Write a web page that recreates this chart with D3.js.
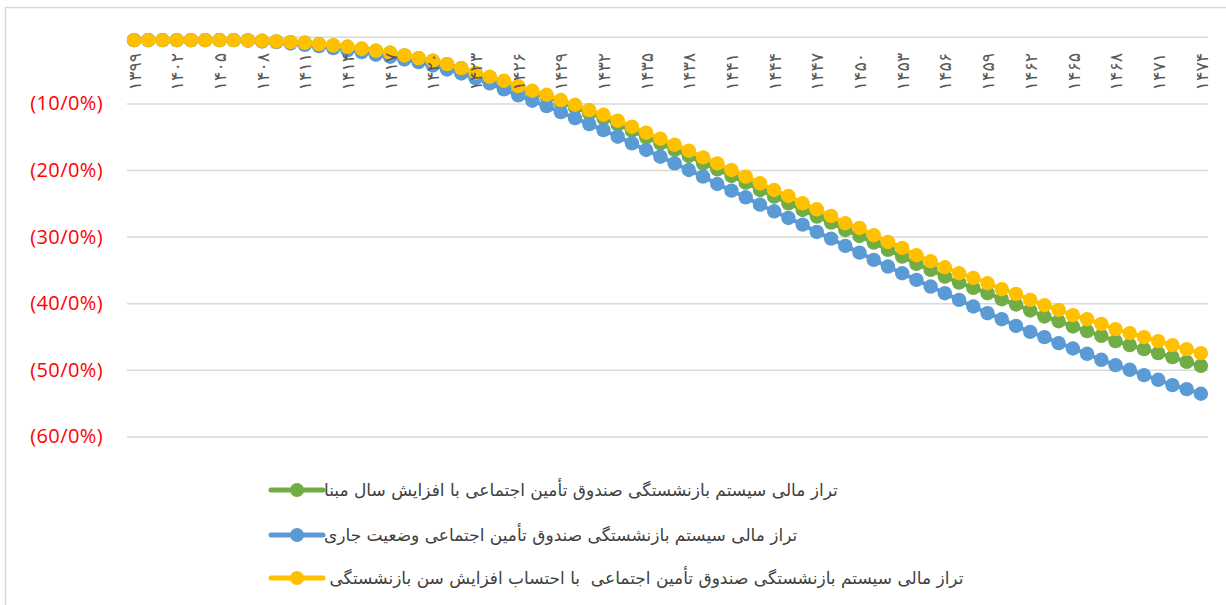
<!DOCTYPE html>
<html>
<head>
<meta charset="utf-8">
<script src="https://cdn.jsdelivr.net/npm/d3@7"></script>
<style>
  html, body { margin: 0; padding: 0; background: #fff; }
  svg { display: block; }
</style>
</head>
<body>
<svg id="chart" width="1226" height="605"></svg>
<script>
// ---- data ----
const years = d3.range(1399, 1475);
const tickYears = d3.range(1399, 1475, 3);
const yTicks = [-10, -20, -30, -40, -50, -60];

const seriesNames = [
  "تراز مالی سیستم بازنشستگی صندوق تأمین اجتماعی با افزایش سال مبنا",
  "تراز مالی سیستم بازنشستگی صندوق تأمین اجتماعی وضعیت جاری",
  "تراز مالی سیستم بازنشستگی صندوق تأمین اجتماعی  با احتساب افزایش سن بازنشستگی "
];
const seriesColors = ["#70AD47", "#5B9BD5", "#FFC000"];

// yellow: retirement-age increase
const yellowVals = [
  -0.5, -0.5, -0.5, -0.5, -0.5, -0.5, -0.5, -0.5, -0.55, -0.6,
  -0.7, -0.8, -0.9, -1.1, -1.3, -1.5, -1.8, -2.1, -2.4, -2.8,
  -3.2, -3.6, -4.1, -4.7, -5.4, -6.0, -6.6, -7.4, -8.1, -8.7,
  -9.5, -10.2, -11.0, -11.7, -12.6, -13.5, -14.4, -15.3, -16.2, -17.1,
  -18.1, -19.0, -20.0, -21.0, -22.0, -23.0, -23.9, -25.0, -25.9, -26.9,
  -28.0, -28.7, -29.8, -30.8, -31.7, -32.8, -33.7, -34.6, -35.5, -36.2,
  -37.0, -37.9, -38.6, -39.5, -40.3, -41.0, -41.8, -42.4, -43.1, -43.9,
  -44.5, -45.1, -45.7, -46.3, -46.9, -47.5
];
// blue: current situation
const blueVals = [
  -0.5, -0.5, -0.5, -0.5, -0.5, -0.5, -0.5, -0.5, -0.55, -0.7,
  -0.8, -1.0, -1.2, -1.4, -1.7, -2.0, -2.3, -2.7, -3.0, -3.4,
  -3.8, -4.3, -4.9, -5.5, -6.2, -7.0, -7.9, -8.8, -9.6, -10.4,
  -11.3, -12.2, -13.1, -14.0, -15.0, -16.0, -17.0, -18.0, -19.0, -20.0,
  -21.0, -22.1, -23.1, -24.1, -25.2, -26.2, -27.2, -28.2, -29.3, -30.3,
  -31.4, -32.4, -33.5, -34.5, -35.5, -36.5, -37.5, -38.5, -39.5, -40.5,
  -41.5, -42.4, -43.4, -44.3, -45.1, -46.0, -46.8, -47.6, -48.5, -49.3,
  -50.0, -50.8, -51.5, -52.3, -52.9, -53.6
];
// green: base-year increase
const greenVals = [
  -0.5, -0.5, -0.5, -0.5, -0.5, -0.5, -0.5, -0.5, -0.55, -0.6,
  -0.7, -0.8, -0.9, -1.1, -1.3, -1.5, -1.8, -2.1, -2.4, -2.8,
  -3.2, -3.6, -4.1, -4.7, -5.5, -6.1, -6.8, -7.6, -8.4, -9.0,
  -9.9, -10.6, -11.5, -12.2, -13.2, -14.1, -15.1, -16.0, -17.0, -17.9,
  -19.0, -19.9, -20.9, -21.9, -23.0, -24.0, -25.0, -26.0, -27.0, -27.9,
  -29.0, -29.9, -30.9, -32.0, -33.0, -34.1, -35.0, -36.0, -36.9, -37.7,
  -38.5, -39.4, -40.2, -41.1, -42.0, -42.7, -43.5, -44.2, -44.9, -45.7,
  -46.3, -46.9, -47.5, -48.1, -48.8, -49.4
];
const seriesValues = [greenVals, blueVals, yellowVals];

// ---- helpers ----
const faDigits = "۰۱۲۳۴۵۶۷۸۹";
const toFa = s => String(s).replace(/[0-9]/g, d => faDigits[+d]);

// ---- layout ----
const svg = d3.select("#chart");
const plot = { left: 127, right: 1208, top: 36.8, bottom: 436.4 };

const x = d3.scalePoint().domain(years).range([plot.left, plot.right]).padding(0.5);
const y = d3.scaleLinear().domain([-60, 0]).range([plot.bottom, plot.top]);

// chart border
svg.append("rect")
  .attr("x", 5.5).attr("y", 7.5)
  .attr("width", 1240).attr("height", 620)
  .attr("fill", "none").attr("stroke", "#d9d9d9").attr("stroke-width", 1.5);

// gridlines + y labels
const yAxis = d3.axisLeft(y).tickValues([0, ...yTicks])
  .tickSize(-(plot.right - plot.left))
  .tickPadding(24)
  .tickFormat(d => d === 0 ? "" : "(" + Math.abs(d) + "/0%)");
const yg = svg.append("g").attr("transform", `translate(${plot.left},0)`).call(yAxis);
yg.select(".domain").remove();
yg.selectAll(".tick line").attr("stroke", "#d9d9d9").attr("stroke-width", 1.5);
yg.selectAll(".tick text")
  .attr("fill", "#FF0000")
  .style("font-family", "'Open Sans', 'Liberation Sans', sans-serif")
  .style("font-size", "20px")
  .style("letter-spacing", "0.4px");

// series
const line = d3.line().x((d, i) => x(years[i])).y(d => y(d));
seriesValues.forEach((vals, si) => {
  const g = svg.append("g");
  g.append("path").datum(vals)
    .attr("d", line)
    .attr("fill", "none")
    .attr("stroke", seriesColors[si])
    .attr("stroke-width", 4);
  g.selectAll("circle").data(vals).join("circle")
    .attr("cx", (d, i) => x(years[i]))
    .attr("cy", d => y(d))
    .attr("r", 7.2)
    .attr("fill", seriesColors[si]);
});

// x tick labels (rotated, Persian digits)
const xAxis = d3.axisBottom(x).tickValues(tickYears).tickSize(0).tickFormat(d => toFa(d));
const xg = svg.append("g").attr("transform", `translate(0,${y(0)})`).call(xAxis);
xg.select(".domain").remove();
xg.selectAll(".tick text")
  .attr("transform", "translate(0,16) rotate(-90)")
  .attr("x", 0).attr("y", 0).attr("dy", "0.35em")
  .attr("text-anchor", "end")
  .attr("fill", "#595959")
  .style("font-family", "'DejaVu Sans', sans-serif")
  .style("font-size", "17.5px");

// legend
const legendRows = [490, 535, 578];
const lg = svg.append("g");
seriesNames.forEach((name, i) => {
  const row = lg.append("g").attr("transform", `translate(0,${legendRows[i]})`);
  row.append("line").attr("x1", 271).attr("x2", 323).attr("y1", 0).attr("y2", 0)
    .attr("stroke", seriesColors[i]).attr("stroke-width", 5).attr("stroke-linecap", "round");
  row.append("circle").attr("cx", 297).attr("cy", 0).attr("r", 7).attr("fill", seriesColors[i]);
  row.append("text")
    .attr("x", 324).attr("y", 0).attr("dy", "0.35em")
    .attr("direction", "rtl")
    .attr("text-anchor", "end")
    .attr("fill", "#404040")
    .style("font-family", "'DejaVu Sans', sans-serif")
    .style("font-size", "17px")
    .style("white-space", "pre")
    .text(name);
});
</script>
</body>
</html>
